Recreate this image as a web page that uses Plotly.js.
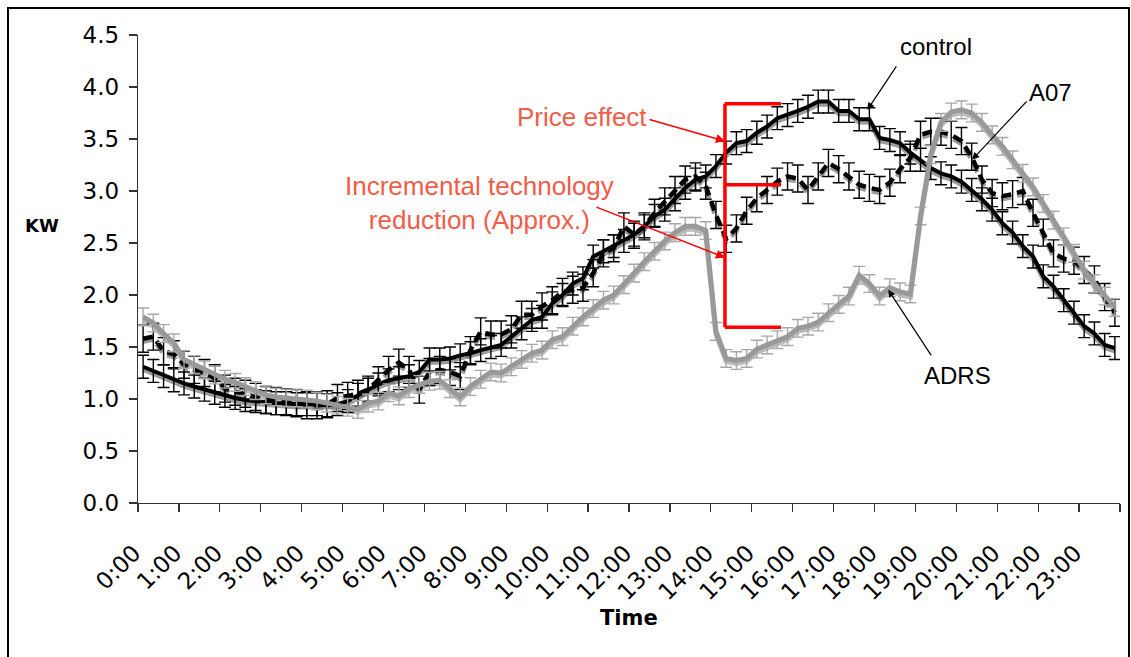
<!DOCTYPE html>
<html>
<head>
<meta charset="utf-8">
<script src="https://cdn.plot.ly/plotly-3.0.1.min.js"></script>
<style>
  html, body { margin: 0; padding: 0; background: #fff; }
  #wrap { position: relative; width: 1131px; height: 657px; overflow: hidden; }
  #chart { position: absolute; left: 0; top: 0; width: 1131px; height: 657px; }
  #frame { position: absolute; left: 7px; top: 7px; width: 1119px; height: 700px; border: 2px solid #000; pointer-events: none; }
</style>
</head>
<body>
<div id="wrap"><div id="chart"></div><div id="frame"></div></div>
<script>
// Hour labels on the category axis
const hourLabels = ['0:00','1:00','2:00','3:00','4:00','5:00','6:00','7:00','8:00','9:00','10:00','11:00',
  '12:00','13:00','14:00','15:00','16:00','17:00','18:00','19:00','20:00','21:00','22:00','23:00'];

// 15-minute load values (kW), 96 per series
const control = [
  1.31,1.27,1.22,1.18,1.15,1.12,1.09,1.06,1.03,1.01,0.99,0.98,
  0.97,0.96,0.96,0.95,0.95,0.95,0.94,0.95,0.98,1.04,1.09,1.14,
  1.18,1.20,1.22,1.26,1.38,1.38,1.39,1.42,1.44,1.47,1.50,1.52,
  1.60,1.68,1.76,1.79,1.92,2.00,2.11,2.16,2.37,2.42,2.47,2.52,
  2.58,2.66,2.76,2.82,2.92,3.03,3.11,3.14,3.24,3.37,3.46,3.48,
  3.56,3.62,3.70,3.73,3.77,3.81,3.86,3.86,3.77,3.77,3.69,3.69,
  3.51,3.49,3.46,3.37,3.30,3.22,3.17,3.14,3.09,3.01,2.92,2.82,
  2.69,2.60,2.47,2.37,2.18,2.08,1.95,1.83,1.70,1.63,1.52,1.49];

const a07 = [
  1.58,1.60,1.46,1.43,1.33,1.28,1.25,1.20,1.10,1.07,1.05,1.02,
  0.99,0.98,0.97,0.96,0.94,0.94,0.95,1.01,1.03,1.05,1.09,1.18,
  1.28,1.35,1.28,1.09,1.26,1.28,1.26,1.22,1.47,1.65,1.62,1.62,
  1.67,1.81,1.81,1.89,1.95,2.03,2.05,2.07,2.21,2.40,2.45,2.66,
  2.58,2.66,2.79,2.90,3.01,3.11,3.14,3.05,2.77,2.54,2.64,2.81,
  2.93,3.01,3.09,3.14,3.12,3.01,3.14,3.27,3.21,3.14,3.06,3.03,
  3.01,3.08,3.21,3.32,3.54,3.57,3.57,3.54,3.48,3.33,3.11,2.98,
  2.95,2.97,3.00,2.79,2.60,2.40,2.35,2.33,2.24,2.15,1.98,1.83];

const adrs = [
  1.79,1.73,1.63,1.54,1.38,1.33,1.28,1.23,1.19,1.16,1.12,1.08,
  1.04,1.02,1.01,1.01,1.00,0.98,0.96,0.94,0.92,0.90,0.96,0.98,
  1.06,1.03,1.10,1.14,1.17,1.18,1.10,1.02,1.12,1.19,1.26,1.25,
  1.31,1.38,1.44,1.47,1.57,1.60,1.70,1.79,1.87,1.95,2.00,2.10,
  2.21,2.32,2.42,2.52,2.60,2.66,2.66,2.62,1.65,1.39,1.37,1.39,
  1.48,1.52,1.57,1.60,1.68,1.70,1.74,1.83,1.91,1.99,2.19,2.11,
  1.99,2.07,2.03,2.01,2.76,3.35,3.66,3.76,3.78,3.75,3.66,3.54,
  3.43,3.30,3.17,3.04,2.88,2.72,2.56,2.40,2.24,2.11,1.99,1.88];

// Error bar half-widths (kW)
const errControl = 0.11, errA07 = 0.13, errAdrs = 0.085;

// Bracket levels for the price / technology annotation
const bracketLevels = [3.84, 3.06, 1.69];

// time of day in hours for each 15-min sample
const hours = control.map((_, i) => i * 0.25);
// category boundaries (tick marks) every hour; labels sit on them
const boundaryTicks = hourLabels.map((_, i) => i - 0.125).concat([23.875]);
const boundaryText = hourLabels.concat(['']);

// drop shadow: base axis shifted by ~3px
const yMax = 4.5, shadowShift = 3 / 104;
const shadowColor = 'rgba(90,90,90,0.6)';

const traces = [
  // shadows (base subplot, drawn first)
  { x: hours, y: control, xaxis: 'x', yaxis: 'y', mode: 'lines', hoverinfo: 'skip',
    line: { color: shadowColor, width: 4.5 } },
  { x: hours, y: a07, xaxis: 'x', yaxis: 'y', mode: 'lines', hoverinfo: 'skip',
    line: { color: shadowColor, width: 4.5, dash: '10px,6px' } },
  { x: hours, y: adrs, xaxis: 'x', yaxis: 'y', mode: 'lines', hoverinfo: 'skip',
    line: { color: 'rgba(120,120,120,0.5)', width: 5 } },
  // main series on the visible axis
  { x: hours, y: control, xaxis: 'x', yaxis: 'y2', type: 'scatter', mode: 'lines', name: 'control',
    line: { color: '#000', width: 4 },
    error_y: { type: 'constant', value: errControl, color: '#000', thickness: 1.4, width: 6 } },
  { x: hours, y: a07, xaxis: 'x', yaxis: 'y2', type: 'scatter', mode: 'lines', name: 'A07',
    line: { color: '#000', width: 4.5, dash: '10px,6px' },
    error_y: { type: 'constant', value: errA07, color: '#000', thickness: 1.4, width: 6 } },
  { x: hours, y: adrs, xaxis: 'x', yaxis: 'y2', type: 'scatter', mode: 'lines', name: 'ADRS',
    line: { color: '#999999', width: 5 },
    error_y: { type: 'constant', value: errAdrs, color: '#a8a8a8', thickness: 1.4, width: 6 } }
];

const bx0 = 14.22, bx1 = 15.59;
const red = '#ff0000';
const shapes = [
  { type: 'line', xref: 'x', yref: 'y2', x0: bx0, x1: bx0, y0: bracketLevels[2], y1: bracketLevels[0], line: { color: red, width: 3.5 } }
].concat(bracketLevels.map(v => ({ type: 'line', xref: 'x', yref: 'y2', x0: bx0, x1: bx1, y0: v, y1: v, line: { color: red, width: 3.5 } })));

const labelFont = { family: 'Liberation Sans, Arial, sans-serif', size: 24, color: '#000' };
const redFont = { family: 'Liberation Sans, Arial, sans-serif', size: 26, color: '#f25c49' };

const A = (o) => Object.assign({ xref: 'x', yref: 'y2' }, o);
const annotations = [
  A({ text: 'control', x: 19.38, y: 4.39, showarrow: false, font: labelFont }),
  A({ text: 'A07', x: 22.17, y: 3.95, showarrow: false, font: labelFont }),
  A({ text: 'ADRS', x: 19.90, y: 1.23, showarrow: false, font: labelFont }),
  A({ text: 'Price effect', x: 10.73, y: 3.715, showarrow: false, font: redFont }),
  A({ text: 'Incremental technology<br>reduction (Approx.)', x: 8.23, y: 2.88, showarrow: false, font: redFont }),
  // arrows
  A({ text: '', x: 17.70, y: 3.78, ax: 30, ay: -45, showarrow: true, arrowhead: 2, arrowsize: 1.2, arrowwidth: 1.2, arrowcolor: '#000' }),
  A({ text: '', x: 20.26, y: 3.30, ax: 56, ay: -60, showarrow: true, arrowhead: 2, arrowsize: 1.2, arrowwidth: 1.2, arrowcolor: '#000' }),
  A({ text: '', x: 18.21, y: 2.05, ax: 44, ay: 67, showarrow: true, arrowhead: 2, arrowsize: 1.2, arrowwidth: 1.2, arrowcolor: '#000' }),
  A({ text: '', x: 14.22, y: 3.48, ax: -77, ay: -22, showarrow: true, arrowhead: 2, arrowsize: 1.2, arrowwidth: 1.5, arrowcolor: red }),
  A({ text: '', x: 14.22, y: 2.36, ax: -130, ay: -51, showarrow: true, arrowhead: 2, arrowsize: 1.2, arrowwidth: 1.5, arrowcolor: red }),
  // axis titles
  { text: '<b>KW</b>', xref: 'paper', yref: 'paper', x: -0.098, y: 0.592, xanchor: 'center', yanchor: 'middle', showarrow: false,
    font: { family: 'DejaVu Sans, Verdana, sans-serif', size: 18, color: '#000' } },
  { text: '<b>Time</b>', xref: 'paper', yref: 'paper', x: 0.5, y: -0.246, xanchor: 'center', yanchor: 'middle', showarrow: false,
    font: { family: 'DejaVu Sans, Verdana, sans-serif', size: 21, color: '#000' } }
];

const tickFont = { family: 'DejaVu Sans, Verdana, sans-serif', size: 23, color: '#000' };

const layout = {
  width: 1131, height: 657,
  margin: { l: 138, r: 11, t: 35, b: 154 },
  paper_bgcolor: '#fff', plot_bgcolor: '#fff',
  showlegend: false,
  xaxis: {
    range: [-0.125, 23.875], tickmode: 'array', tickvals: boundaryTicks, ticktext: boundaryText,
    tickangle: -45, ticks: 'outside', ticklen: 8, tickwidth: 1.3, tickcolor: '#333',
    ticklabelstandoff: 18, ticklabelshift: -4,
    showgrid: false, zeroline: false, anchor: 'y2',
    showline: true, linecolor: '#333', linewidth: 1.3, tickfont: tickFont
  },
  yaxis: {
    range: [shadowShift, yMax + shadowShift], visible: false, showgrid: false, zeroline: false
  },
  yaxis2: {
    overlaying: 'y', side: 'left', anchor: 'x',
    range: [0, yMax], tickmode: 'linear', tick0: 0, dtick: 0.5, tickformat: '.1f',
    ticks: 'outside', ticklen: 8, tickwidth: 1.3, tickcolor: '#333', ticklabelstandoff: 5,
    showgrid: false, zeroline: false, showline: true, linecolor: '#333', linewidth: 1.3,
    tickfont: tickFont
  },
  shapes: shapes,
  annotations: annotations
};

Plotly.newPlot('chart', traces, layout, { displayModeBar: false, staticPlot: true });
</script>
</body>
</html>
